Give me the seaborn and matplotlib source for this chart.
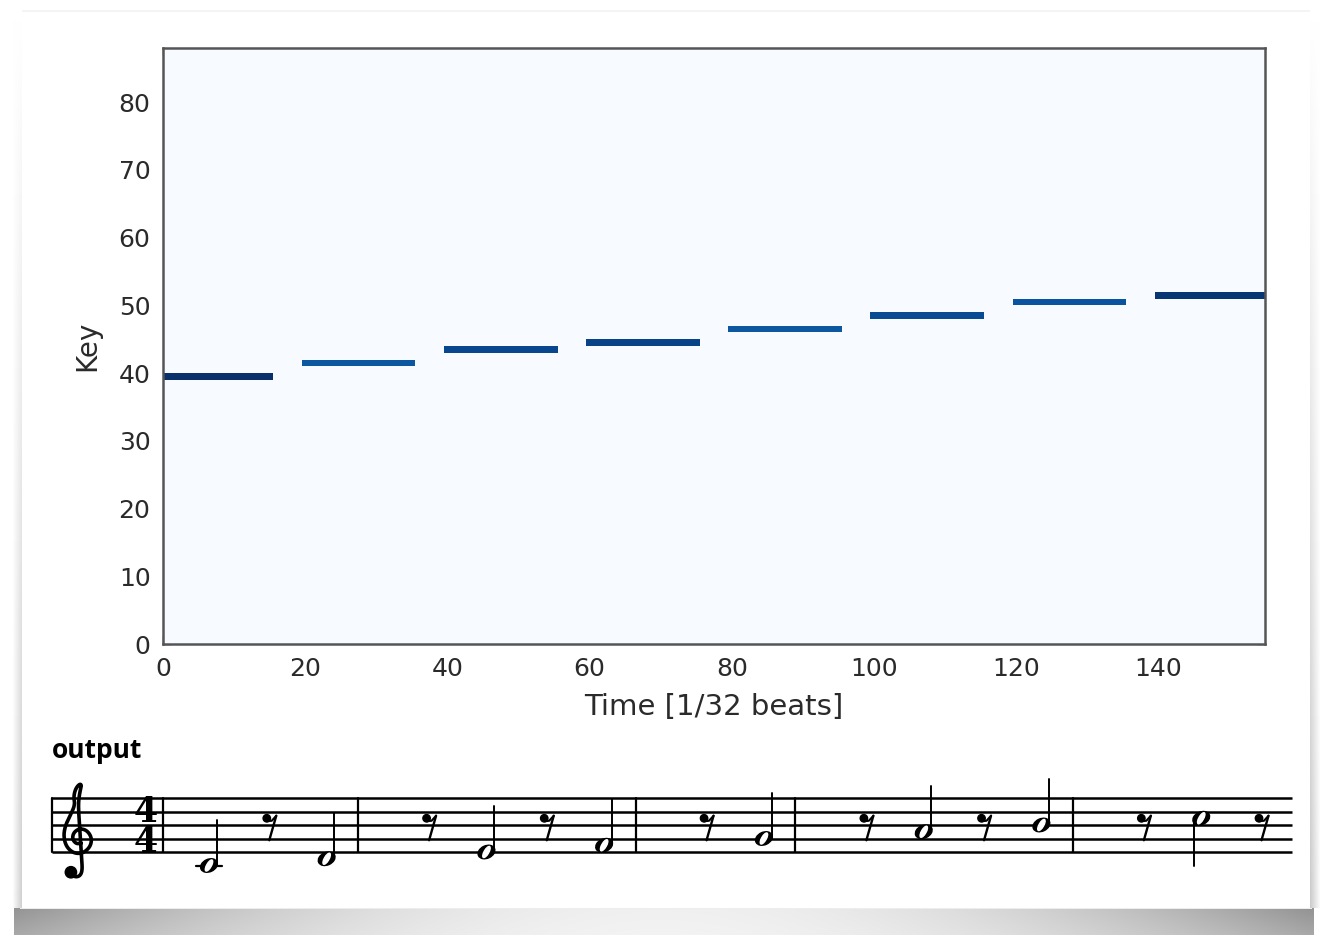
import numpy as np
import pandas as pd
import matplotlib
matplotlib.use("Agg")
import matplotlib.pyplot as plt
import seaborn as sns
from matplotlib.patches import Ellipse, Circle
from matplotlib import font_manager, ft2font

# ---------------- data ----------------
note_keys = [39, 41, 43, 44, 46, 48, 50, 51]          # piano key index (MIDI - 21)
note_starts = [0, 20, 40, 60, 80, 100, 120, 140]      # in 1/32 beats
note_lengths = [16, 16, 16, 16, 16, 16, 16, 16]
note_velocities = [127, 108, 116, 118, 108, 114, 110, 124]
n_keys = 88
n_steps = 156
x_ticks = [0, 20, 40, 60, 80, 100, 120, 140]
y_ticks = [0, 10, 20, 30, 40, 50, 60, 70, 80]
x_label = "Time [1/32 beats]"
y_label = "Key"
cell_label = "output"
time_signature = "4\n4"
barline_after_event = [2, 6, 8, 12]   # score: bar lines after these events

# piano roll matrix
roll = np.zeros((n_keys, n_steps))
for k, s, l, v in zip(note_keys, note_starts, note_lengths, note_velocities):
    roll[k, s:s + l] = v
df = pd.DataFrame(roll)

# ---------------- figure ----------------
sns.set_theme(style="ticks")
plt.rcParams["font.family"] = ["DejaVu Sans"]
W, H = 1322, 935
fig = plt.figure(figsize=(W / 100, H / 100), dpi=100)
fig.patch.set_facecolor("white")

# screenshot card background with shadow
bg = np.ones((H, W, 3))
xs = np.arange(W)
xn = np.clip((xs - W / 2) / (W / 2 - 14), -1, 1)
for y in range(908, H):
    t = (y - 908) / (H - 908)
    d = (0.06 + 0.36 * xn ** 2) * (1.0 - 0.2 * t)
    d[:14] = 0.0
    d[W - 8:] = 0.0
    bg[y, :, :] = (1 - d)[:, None]
bg[908, 20:1312, :] = 0.93
for x in range(12, 22):
    a = (x - 12) / 10
    col = np.linspace(0.0, 0.2, 908 - 20) * a
    bg[20:908, x, :] = (1 - col)[:, None]
for x in range(1310, 1320):
    a = 1 - (x - 1310) / 10
    col = np.linspace(0.0, 0.2, 908 - 20) * a
    bg[20:908, x, :] = (1 - col)[:, None]
bg[10:12, 22:1310, :] = 0.96
fig.figimage(bg, xo=0, yo=0, origin="upper", zorder=-10)

# ---------------- piano roll ----------------
ax_l, ax_r, ax_t, ax_b = 163, 1265, 48, 644
ax = fig.add_axes([ax_l / W, 1 - ax_b / H, (ax_r - ax_l) / W, (ax_b - ax_t) / H])
sns.heatmap(df, cmap="Blues", vmin=0, vmax=127, cbar=False, ax=ax,
            xticklabels=False, yticklabels=False)
ax.invert_yaxis()
ax.set_xlim(0.5, n_steps - 0.5)
ax.set_ylim(0, n_keys)
ax.set_xticks([t + 0.5 for t in x_ticks])
ax.set_xticklabels([str(t) for t in x_ticks])
ax.set_yticks(y_ticks)
ax.set_yticklabels([str(t) for t in y_ticks])
for sp in ax.spines.values():
    sp.set_visible(True)
    sp.set_color("#555555")
    sp.set_linewidth(1.8)
ax.tick_params(direction="in", length=6, width=1.0, color="#555555",
               top=True, right=True, labelsize=18, pad=9, labelcolor="#2a2a2a",
               labelrotation=0)
ax.set_xlabel(x_label, fontsize=21, color="#2a2a2a")
ax.set_ylabel(y_label, fontsize=20, color="#2a2a2a")
ax.xaxis.set_label_coords(0.5, -0.082)
ax.yaxis.set_label_coords(-0.056, 0.5)

# ---------------- score (staff) ----------------
sax = fig.add_axes([0, 0, 1, 1], zorder=5)
sax.set_xlim(0, W)
sax.set_ylim(H, 0)
sax.axis("off")
sax.patch.set_alpha(0)

sax.text(52, 758, cell_label, fontsize=19, fontweight="bold",
         family=["Open Sans", "DejaVu Sans"], color="black", ha="left", va="baseline")

sp_ = 13.5
staff_bottom = 852.0
staff_top = staff_bottom - 4 * sp_
x0, x1 = 52, 1292
for i in range(5):
    y = staff_bottom - i * sp_
    sax.plot([x0, x1], [y, y], color="black", lw=1.8, solid_capstyle="butt")
sax.plot([x0, x0], [staff_top, staff_bottom], color="black", lw=1.6)

# treble clef
def has_glyph(fam, ch):
    try:
        path = font_manager.findfont(font_manager.FontProperties(family=fam),
                                     fallback_to_default=False)
        f = ft2font.FT2Font(path)
        return f.get_char_index(ord(ch)) != 0
    except Exception:
        return False

clef_ch = "\U0001D11E"
clef_font = None
for fam in ["DejaVu Sans", "DejaVu Serif", "Noto Sans", "Liberation Serif"]:
    if has_glyph(fam, clef_ch):
        clef_font = fam
        break

g_line = staff_bottom - sp_
cx = 79
if clef_font is not None:
    sax.text(cx, g_line - 2, clef_ch, family=clef_font, fontsize=60, ha="center",
             va="center", color="black")
else:
    pts = np.array([(-0.6, -2.55), (-0.35, -2.85), (0.05, -2.8), (0.25, -2.4),
                    (0.2, -1.5), (0.1, 0.0), (0.0, 1.5), (-0.05, 2.6), (0.05, 3.4),
                    (0.2, 3.95), (0.05, 4.05), (-0.25, 3.7), (-0.4, 3.1), (-0.3, 2.5),
                    (-0.6, 1.8), (-1.0, 1.0), (-1.15, 0.2), (-0.95, -0.6), (-0.4, -1.1),
                    (0.3, -1.1), (0.85, -0.6), (0.95, 0.05), (0.6, 0.6), (0.05, 0.75),
                    (-0.4, 0.45), (-0.5, -0.05), (-0.2, -0.4), (0.15, -0.35)])
    for _ in range(4):
        new = [pts[0]]
        for p, q in zip(pts[:-1], pts[1:]):
            new.append(0.75 * p + 0.25 * q)
            new.append(0.25 * p + 0.75 * q)
        new.append(pts[-1])
        pts = np.array(new)
    sax.plot(cx + pts[:, 0] * sp_, g_line - pts[:, 1] * sp_, color="black",
             lw=2.6, solid_capstyle="round", solid_joinstyle="round")
    sax.add_patch(Circle((cx - 0.6 * sp_, g_line + 2.5 * sp_), 0.42 * sp_, color="black"))

# time signature (one text, two lines)
sax.text(146, staff_bottom, time_signature, family="DejaVu Serif", fontweight="bold",
         fontsize=25, ha="center", va="baseline", color="black", linespacing=0.84,
         multialignment="center")
sax.plot([163, 163], [staff_top, staff_bottom], color="black", lw=1.6)

# events: note, rest, note, rest ...
events = []
for k in note_keys:
    events.append(("note", k))
    events.append(("rest", None))
seq = []
for i, e in enumerate(events):
    seq.append(e)
    if i in barline_after_event:
        seq.append(("bar", None))
gap = {("note", "rest"): 63, ("rest", "note"): 57, ("note", "bar"): 32,
       ("bar", "rest"): 74, ("rest", "bar"): 32, ("bar", "note"): 57}
xpos = [209.0]
for a, b in zip(seq[:-1], seq[1:]):
    xpos.append(xpos[-1] + gap[(a[0], b[0])])
xpos = np.array(xpos)
xpos = 209 + (xpos - 209) * (1263 - 209) / (xpos[-1] - 209)

pc_step = {0: 0, 2: 1, 4: 2, 5: 3, 7: 4, 9: 5, 11: 6}
def staff_step(key):
    midi = key + 21
    return (midi // 12 - 5) * 7 + pc_step[midi % 12]

for (kind, k), x in zip(seq, xpos):
    if kind == "bar":
        sax.plot([x, x], [staff_top, staff_bottom], color="black", lw=1.6)
    elif kind == "rest":
        yd = staff_bottom - 2.5 * sp_
        sax.add_patch(Circle((x - 4, yd), 3.7, color="black"))
        sax.plot([x - 4, x + 1, x + 5.5], [yd + 3, yd + 2.5, yd - 2.5], color="black", lw=1.5)
        sax.plot([x + 5.5, x - 1.5], [yd - 2.5, yd + 22], color="black", lw=1.7)
    else:
        st = staff_step(k)
        y = staff_bottom - (st - 2) * sp_ / 2
        if st <= 0:
            sax.plot([x - 13, x + 13], [staff_bottom + sp_, staff_bottom + sp_],
                     color="black", lw=1.6)
        sax.add_patch(Ellipse((x, y), 17.5, 12.5, angle=-25, color="black", zorder=6))
        sax.add_patch(Ellipse((x, y), 12.5, 4.6, angle=-60, color="white", zorder=7))
        if st < 7:
            sax.plot([x + 7.6, x + 7.6], [y - 1, y - 46], color="black", lw=1.4)
        else:
            sax.plot([x - 7.6, x - 7.6], [y + 1, y + 48], color="black", lw=1.4)

fig.savefig("out.png", dpi=100, facecolor="white")
